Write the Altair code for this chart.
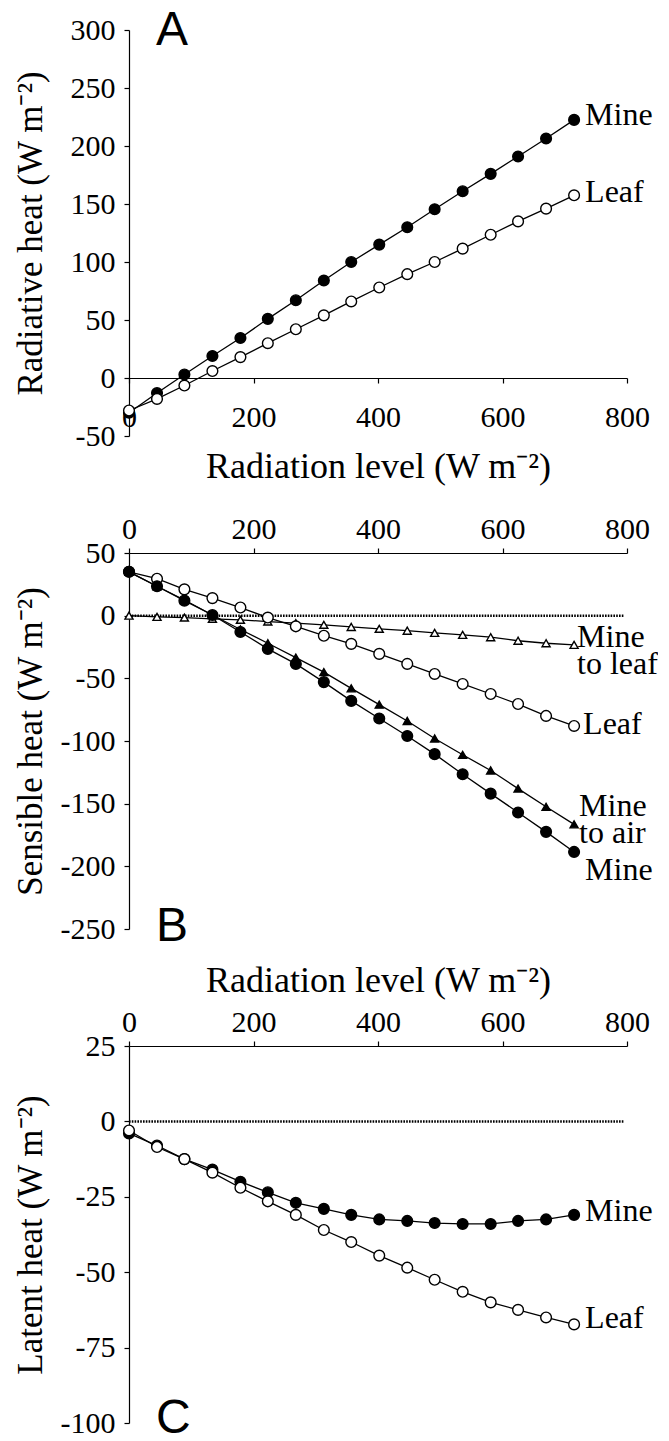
import altair as alt
import pandas as pd

# ---------------- data ----------------
radiation = [0, 45, 89, 134, 179, 223, 268, 313, 357, 402, 447, 491, 536, 581, 625, 670, 715]

# Panel A: radiative heat
A_mine = [-30, -13, 3, 19, 34.5, 51, 67, 84, 100, 115, 130, 145.5, 161, 176, 191, 206.5, 222.5]
A_leaf = [-28, -18, -6.5, 6, 18, 30, 42, 54, 66, 78, 89.5, 100, 111.5, 123.5, 135, 146, 157.5]

# Panel B: sensible heat
B_mine = [35, 23.5, 12, 0.5, -13, -26.5, -38.5, -53, -68, -82, -96, -110.5, -126.5, -142, -157, -172.5, -188.5]
B_mine_air = [35, 23.5, 12.5, 0.5, -11, -22, -33.5, -45, -58, -71, -84, -98, -111, -123.5, -138, -152.5, -166.5]
B_leaf = [35, 29.5, 21, 14, 6.5, -1.5, -8.5, -16, -22.5, -30.5, -38.5, -46.5, -54.5, -62.5, -70.5, -80, -88]
B_mine_leaf = [0, -1, -1.5, -2.5, -3.3, -4.7, -6, -7.3, -9, -10.5, -12, -13.7, -15.3, -17.2, -20, -22, -23.3]

# Panel C: latent heat
C_mine = [-4, -8, -12.5, -16, -20, -23.5, -27, -29, -31, -32.5, -33, -33.7, -34, -34, -33, -32.5, -31]
C_leaf = [-3, -8.5, -12.5, -17, -22, -26.5, -31, -36, -40, -44.5, -48.5, -52.5, -56.5, -60, -62.5, -65, -67.3]

x_ticks = [0, 200, 400, 600, 800]
A_yticks = [-50, 0, 50, 100, 150, 200, 250, 300]
B_yticks = [-250, -200, -150, -100, -50, 0, 50]
C_yticks = [-100, -75, -50, -25, 0, 25]

x_title = "Radiation level (W m⁻²)"

SERIF = "Liberation Serif"
SANS = "Liberation Sans"
W = 498


def panel(series, ydomain, yticks, ytitle, xaxis, height, letter, letter_y, zero_rule):
    xenc = alt.X("x:Q", scale=alt.Scale(domain=[0, 800], nice=False, zero=False), axis=xaxis)
    yenc = alt.Y("y:Q", scale=alt.Scale(domain=ydomain, nice=False, zero=False),
                 axis=alt.Axis(values=yticks, tickSize=5, labelPadding=9, title=ytitle,
                               titleX=-99, titleBaseline="middle", titleFontSize=35,
                               labelExpr="toString(datum.value)"))
    layers = []
    if zero_rule:
        rdf = pd.DataFrame({"x": [0], "x2": [795], "y": [0]})
        layers.append(alt.Chart(rdf).mark_rule(color="black", strokeWidth=2.5, strokeDash=[1.6, 1.2])
                      .encode(x=xenc, x2="x2:Q", y=yenc))
    for ys, fill, shape, size, label, dx, dy in series:
        df = pd.DataFrame({"x": radiation, "y": ys})
        layers.append(alt.Chart(df).mark_line(color="black", strokeWidth=1.3).encode(x=xenc, y=yenc))
    for ys, fill, shape, size, label, dx, dy in series:
        df = pd.DataFrame({"x": radiation, "y": ys})
        layers.append(alt.Chart(df).mark_point(shape=shape, filled=True, fill=fill, stroke="black",
                                               strokeWidth=1.4, size=size, opacity=1)
                      .encode(x=xenc, y=yenc))
        ldf = pd.DataFrame({"x": [radiation[-1]], "y": [ys[-1]]})
        layers.append(alt.Chart(ldf).mark_text(text=label, align="left", baseline="middle", dx=dx, dy=dy,
                                               font=SERIF, fontSize=32, lineHeight=27, color="black")
                      .encode(x=xenc, y=yenc))
    layers.append(alt.Chart(pd.DataFrame({"t": [letter]})).mark_text(
        text=letter, font=SANS, fontSize=48, align="left", baseline="alphabetic", color="black")
        .encode(x=alt.value(27), y=alt.value(letter_y)))
    return alt.layer(*layers).properties(width=W, height=height)


A = panel(
    [(A_mine, "black", "circle", 115, "Mine", 11, -5),
     (A_leaf, "white", "circle", 115, "Leaf", 11, -3)],
    [-50, 300], A_yticks, "Radiative heat (W m⁻²)",
    alt.Axis(orient="bottom", offset=-58, values=x_ticks, tickSize=5, labelPadding=19, title=None),
    406, "A", 15, False)

B = panel(
    [(B_mine_leaf, "white", "triangle-up", 65, ["Mine", "to leaf"], 3, -8),
     (B_leaf, "white", "circle", 115, "Leaf", 9, -2),
     (B_mine_air, "black", "triangle-up", 65, ["Mine", "to air"], 5, -18),
     (B_mine, "black", "circle", 115, "Mine", 11, 18)],
    [-250, 50], B_yticks, "Sensible heat (W m⁻²)",
    alt.Axis(orient="top", values=x_ticks, tickSize=5, labelPadding=4, title=x_title,
             titleY=-87, titleBaseline="middle"),
    376, "B", 388, True)

C = panel(
    [(C_mine, "black", "circle", 115, "Mine", 11, -4),
     (C_leaf, "white", "circle", 115, "Leaf", 11, -6)],
    [-100, 25], C_yticks, "Latent heat (W m⁻²)",
    alt.Axis(orient="top", values=x_ticks, tickSize=5, labelPadding=4, title=x_title,
             titleY=-66, titleBaseline="middle"),
    377, "C", 387, True)

chart = alt.vconcat(A, B, C, spacing=117, bounds="flush").properties(
    padding={"left": 4, "top": -1, "right": 0, "bottom": -10}
).configure_view(stroke=None).configure_axis(
    labelFont=SERIF, labelFontSize=30, labelColor="black",
    titleFont=SERIF, titleFontSize=36, titleColor="black", titleFontWeight="normal",
    domainColor="black", tickColor="black", domainWidth=1.2, tickWidth=1.2,
    grid=False, labelFlush=False, labelOverlap=False
)

chart.save("out.html", embed_options={"renderer": "svg", "actions": False})
